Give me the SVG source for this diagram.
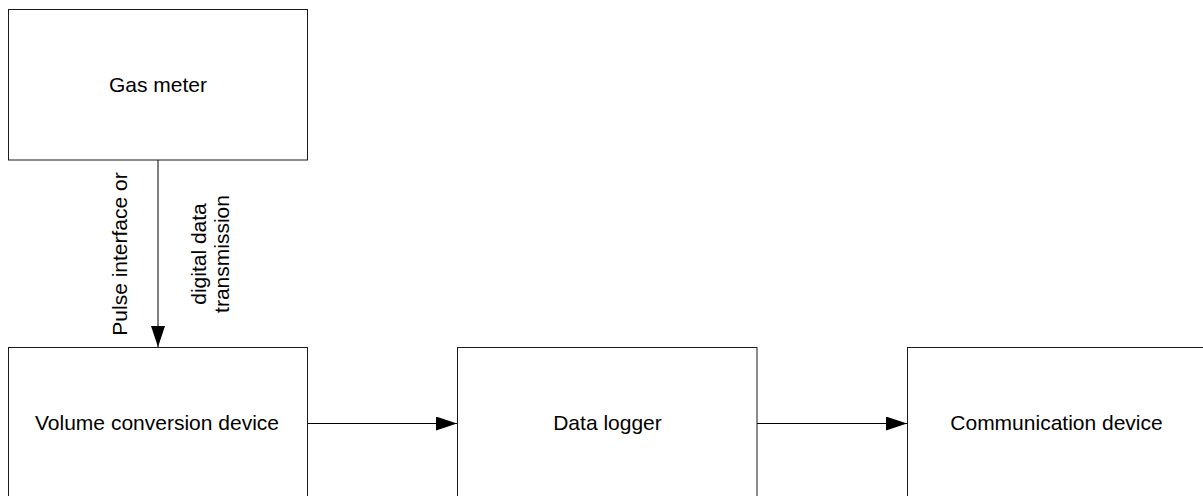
<svg xmlns="http://www.w3.org/2000/svg" width="1203" height="496" viewBox="0 0 1203 496">
  <style>
    .box { fill: #ffffff; stroke: #1a1a1a; stroke-width: 1; }
    .label { font-family: "Liberation Sans", Arial, sans-serif; font-size: 21px; fill: #000000; text-anchor: middle; }
    .conn { fill: none; stroke: #000000; stroke-width: 1; }
  </style>
  <defs>
    <marker id="arrow" markerUnits="userSpaceOnUse" markerWidth="21" markerHeight="14" viewBox="0 0 21 14" refX="21" refY="7" orient="auto">
      <path d="M0,0 L21,7 L0,14 Z" fill="#000000"/>
    </marker>
  </defs>
  <rect x="0" y="0" width="1203" height="496" fill="#ffffff"/>

  <g id="gas-meter">
    <rect class="box" x="8.5" y="9.5" width="299" height="150.5"/>
    <text class="label" x="158" y="91.5">Gas meter</text>
  </g>

  <g id="volume-conversion-device">
    <rect class="box" x="8.5" y="347.5" width="299" height="155"/>
    <text class="label" x="157" y="429.5">Volume conversion device</text>
  </g>

  <g id="data-logger">
    <rect class="box" x="457.5" y="347.5" width="299.5" height="155"/>
    <text class="label" x="607.5" y="429.5">Data logger</text>
  </g>

  <g id="communication-device">
    <rect class="box" x="907.5" y="347.5" width="300" height="155"/>
    <text class="label" x="1056.5" y="429.5">Communication device</text>
  </g>

  <g id="connectors">
    <line class="conn" x1="158" y1="160" x2="158" y2="347" marker-end="url(#arrow)"/>
    <line class="conn" x1="307.5" y1="423.5" x2="457" y2="423.5" marker-end="url(#arrow)"/>
    <line class="conn" x1="757" y1="423.5" x2="907" y2="423.5" marker-end="url(#arrow)"/>
    <text class="label" transform="translate(126.5,254) rotate(-90)" x="0" y="0">Pulse interface or</text>
    <text class="label" transform="translate(205.5,254) rotate(-90)" x="0" y="0">digital data</text>
    <text class="label" transform="translate(229,254) rotate(-90)" x="0" y="0">transmission</text>
  </g>
</svg>
